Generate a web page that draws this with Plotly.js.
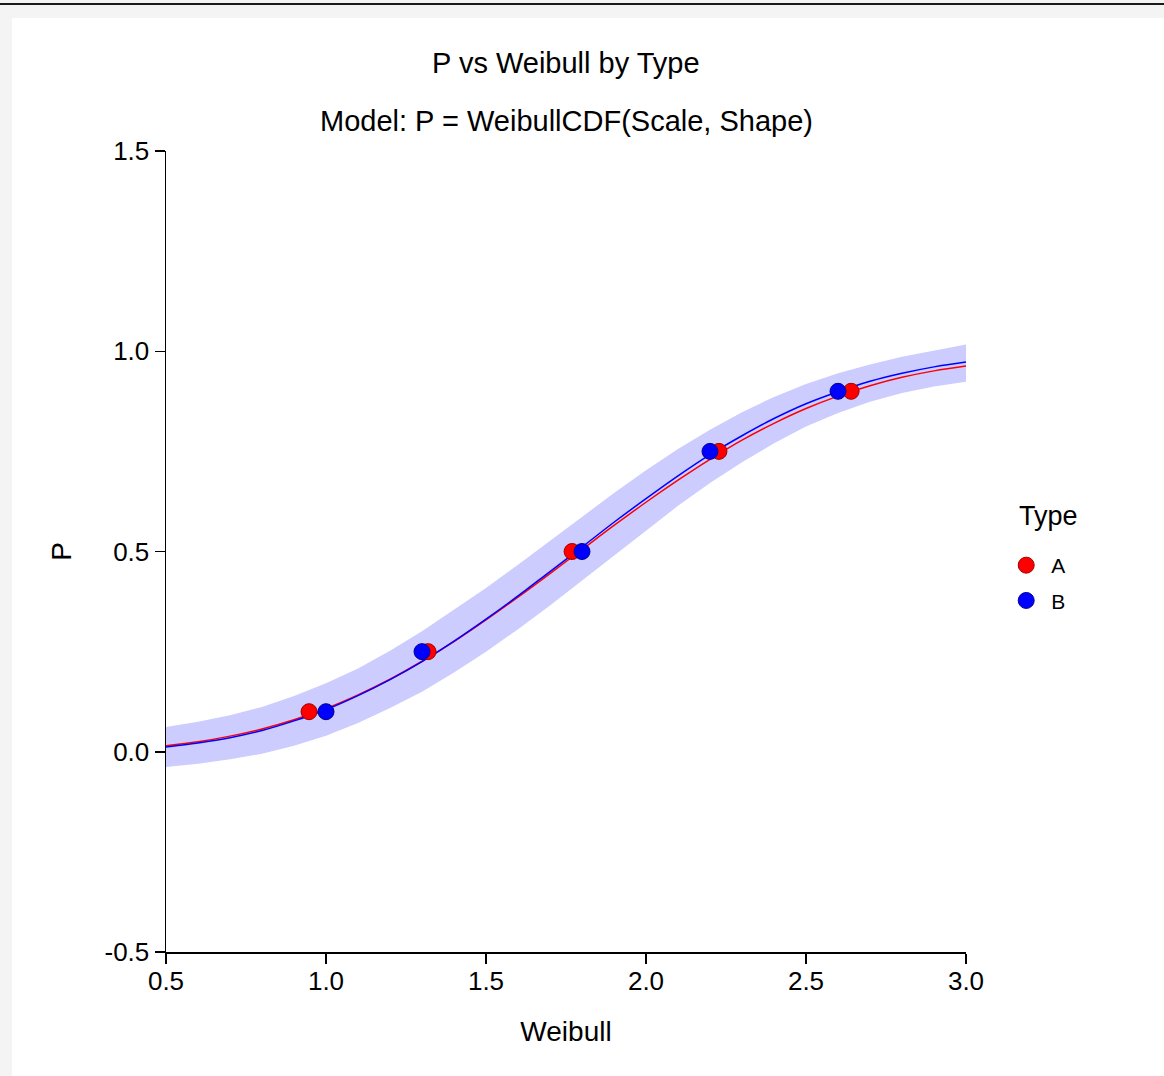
<!DOCTYPE html>
<html>
<head>
<meta charset="utf-8">
<script src="https://cdn.plot.ly/plotly-3.0.1.min.js"></script>
<style>
  html, body { margin: 0; padding: 0; background: #f4f4f4; width: 1164px; height: 1076px; overflow: hidden; }
  #topline { position: absolute; left: 0; top: 3px; width: 1164px; height: 2px; background: #1a1a1a; }
  #chart { position: absolute; left: 12px; top: 18px; width: 1152px; height: 1058px; background: #fff; }
</style>
</head>
<body>
<div id="topline"></div>
<div id="chart"></div>
<script>
// Observed data points
const typeA_x = [0.947, 1.319, 1.769, 2.228, 2.641];
const typeA_p = [0.10, 0.25, 0.50, 0.75, 0.90];
const typeB_x = [1.00, 1.30, 1.80, 2.20, 2.60];
const typeB_p = [0.10, 0.25, 0.50, 0.75, 0.90];

// Fitted curves
const curve_x = [0.5,0.6,0.7,0.8,0.9,1.0,1.1,1.2,1.3,1.4,1.5,1.6,1.7,1.8,1.9,2.0,2.1,2.2,2.3,2.4,2.5,2.6,2.7,2.8,2.9,3.0];
const curveA_p = [0.015,0.025,0.039,0.057,0.080,0.108,0.142,0.181,0.226,0.275,0.329,0.386,0.445,0.505,0.565,0.623,0.678,0.730,0.778,0.820,0.857,0.888,0.914,0.935,0.951,0.963];
const curveB_p = [0.012,0.022,0.035,0.053,0.077,0.105,0.140,0.180,0.225,0.276,0.331,0.389,0.450,0.511,0.573,0.632,0.689,0.742,0.789,0.832,0.869,0.899,0.925,0.945,0.961,0.973];

// Shaded band
const band_upper = [0.062,0.075,0.091,0.112,0.139,0.171,0.208,0.252,0.301,0.354,0.409,0.467,0.527,0.587,0.646,0.703,0.756,0.804,0.848,0.886,0.918,0.945,0.967,0.986,1.002,1.017];
const band_lower = [-0.038,-0.030,-0.019,-0.005,0.015,0.040,0.072,0.109,0.150,0.198,0.250,0.306,0.365,0.427,0.490,0.553,0.614,0.671,0.723,0.770,0.812,0.846,0.874,0.896,0.912,0.924];

const legendTitle = "Type";
const titleText = "P vs Weibull by Type";
const subtitleText = "Model: P = WeibullCDF(Scale, Shape)";

const FONT = "Liberation Sans, Arial, sans-serif";
const bandColor = "rgba(204,204,255,1)";

const traces = [
  { x: curve_x, y: band_upper, mode: "lines", line: {width: 0, color: bandColor}, showlegend: false, hoverinfo: "skip" },
  { x: curve_x, y: band_lower, mode: "lines", line: {width: 0, color: bandColor}, fill: "tonexty", fillcolor: bandColor, showlegend: false, hoverinfo: "skip" },
  { x: curve_x, y: curveA_p, mode: "lines", line: {color: "#ff0000", width: 1.5, shape: "spline"}, showlegend: false },
  { x: curve_x, y: curveB_p, mode: "lines", line: {color: "#0000ff", width: 1.5, shape: "spline"}, showlegend: false },
  { x: typeA_x, y: typeA_p, mode: "markers", name: "A", legendgroup: "A", marker: {color: "#ff0000", size: 16, line: {color: "#a00000", width: 1}} },
  { x: typeB_x, y: typeB_p, mode: "markers", name: "B", legendgroup: "B", marker: {color: "#0000ff", size: 16, line: {color: "#000090", width: 1}} }
];

const layout = {
  width: 1152, height: 1058,
  paper_bgcolor: "#ffffff", plot_bgcolor: "#ffffff",
  margin: {l: 154, r: 198, t: 133, b: 124},
  font: {family: FONT, size: 20, color: "#000"},
  showlegend: true,
  legend: {
    x: 1.044, xanchor: "left", y: 0.5081, yanchor: "top",
    traceorder: "grouped",
    font: {family: FONT, size: 21, color: "#000"},
    itemwidth: 40, tracegroupgap: 5
  },
  xaxis: {
    range: [0.5, 3.0], tickvals: [0.5,1.0,1.5,2.0,2.5,3.0], ticktext: ["0.5","1.0","1.5","2.0","2.5","3.0"],
    showgrid: false, zeroline: false, showline: true, linecolor: "#000", linewidth: 1.5,
    ticks: "outside", ticklen: 10, tickwidth: 1.5, tickcolor: "#000", ticklabelstandoff: -5,
    tickfont: {family: FONT, size: 26, color: "#000"},
    title: {text: "Weibull", font: {family: FONT, size: 28, color: "#000"}, standoff: 26}
  },
  yaxis: {
    range: [-0.5, 1.5], tickvals: [-0.5,0.0,0.5,1.0,1.5], ticktext: ["-0.5","0.0","0.5","1.0","1.5"],
    showgrid: false, zeroline: false, showline: true, linecolor: "#000", linewidth: 1.5,
    ticks: "outside", ticklen: 10, tickwidth: 1.5, tickcolor: "#000",
    tickfont: {family: FONT, size: 26, color: "#000"},
    title: {text: "P", font: {family: FONT, size: 28, color: "#000"}, standoff: 24}
  },
  annotations: [
    {text: titleText, xref: "paper", yref: "paper", x: 0.5, y: 1, yshift: 88, xanchor: "center", yanchor: "middle", showarrow: false, font: {family: FONT, size: 29, color: "#000"}},
    {text: subtitleText, xref: "paper", yref: "paper", x: 0.5, y: 1, yshift: 30, xanchor: "center", yanchor: "middle", showarrow: false, font: {family: FONT, size: 29, color: "#000"}},
    {text: legendTitle, xref: "paper", yref: "paper", x: 1.1025, y: 0.5443, xanchor: "center", yanchor: "middle", showarrow: false, font: {family: FONT, size: 27, color: "#000"}}
  ]
};

Plotly.newPlot("chart", traces, layout, {displayModeBar: false, staticPlot: true});
</script>
</body>
</html>
